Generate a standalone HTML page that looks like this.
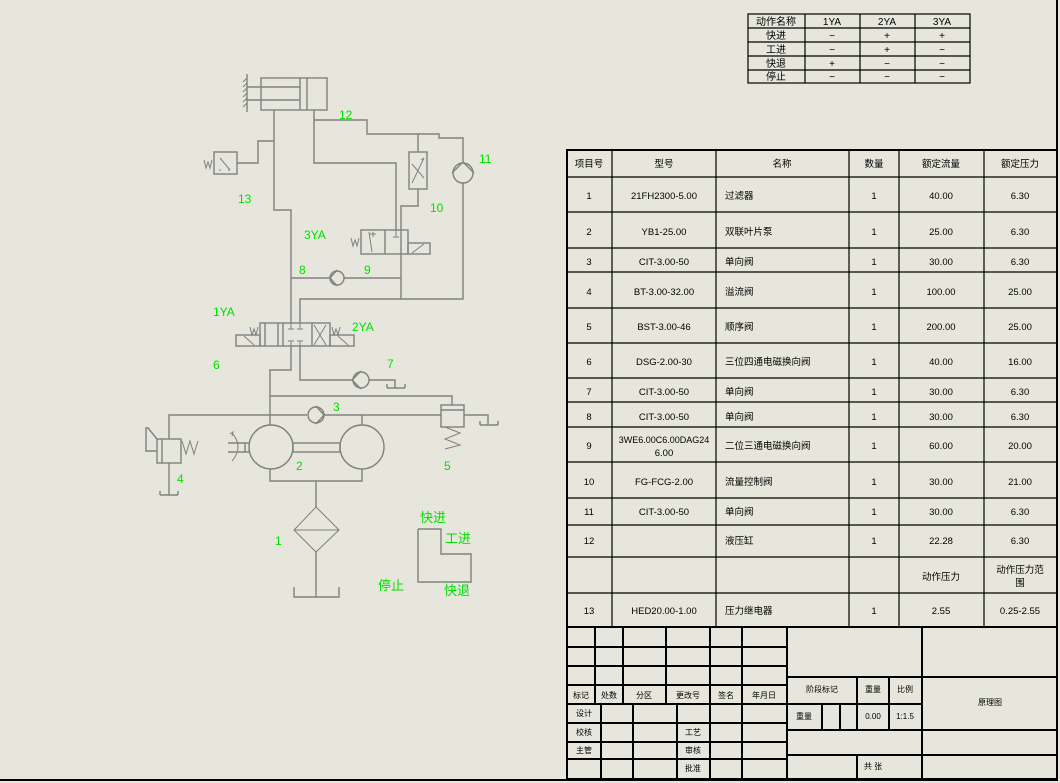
<!DOCTYPE html>
<html><head><meta charset="utf-8"><style>
html,body{margin:0;padding:0;background:#e6e6dc;}
svg{display:block;}
text{font-family:"Liberation Sans","Noto Sans CJK SC",sans-serif;}
.t{font-size:10px;fill:#000;}
.g{font-size:12px;fill:#00e000;}
.gc{font-size:13px;fill:#00e000;font-family:"Liberation Sans","Noto Sans CJK SC",sans-serif;}
.s{font-size:8px;fill:#000;}
</style></head><body>
<svg width="1060" height="783" viewBox="0 0 1060 783" xmlns="http://www.w3.org/2000/svg">
<rect width="1060" height="783" fill="#e6e6dc"/>
<line x1="1057" y1="0" x2="1057" y2="781" stroke="#000" stroke-width="2"/>
<line x1="0" y1="780" x2="1058" y2="780" stroke="#000" stroke-width="2"/>

<g stroke="#000" stroke-width="1.2" fill="none">
<rect x="748" y="14" width="222" height="69"/>
<line x1="805" y1="14" x2="805" y2="83"/><line x1="860" y1="14" x2="860" y2="83"/><line x1="915" y1="14" x2="915" y2="83"/>
<line x1="748" y1="28" x2="970" y2="28"/><line x1="748" y1="42" x2="970" y2="42"/><line x1="748" y1="56" x2="970" y2="56"/><line x1="748" y1="70" x2="970" y2="70"/>
</g>
<g class="t" text-anchor="middle" style="font-size:10px">
<text x="776" y="25">动作名称</text><text x="832" y="25">1YA</text><text x="887" y="25">2YA</text><text x="942" y="25">3YA</text>
<text x="776" y="39">快进</text><text x="832" y="39">−</text><text x="887" y="39">+</text><text x="942" y="39">+</text>
<text x="776" y="53">工进</text><text x="832" y="53">−</text><text x="887" y="53">+</text><text x="942" y="53">−</text>
<text x="776" y="67">快退</text><text x="832" y="67">+</text><text x="887" y="67">−</text><text x="942" y="67">−</text>
<text x="776" y="80">停止</text><text x="832" y="80">−</text><text x="887" y="80">−</text><text x="942" y="80">−</text>
</g>

<g stroke="#000" stroke-width="1.2" fill="none">
<rect x="567" y="150" width="490" height="477" stroke-width="2"/>
<line x1="612" y1="150" x2="612" y2="627"/><line x1="716" y1="150" x2="716" y2="627"/><line x1="849" y1="150" x2="849" y2="627"/><line x1="899" y1="150" x2="899" y2="627"/><line x1="984" y1="150" x2="984" y2="627"/>
<line x1="567" y1="177" x2="1057" y2="177"/><line x1="567" y1="212" x2="1057" y2="212"/><line x1="567" y1="248" x2="1057" y2="248"/><line x1="567" y1="272" x2="1057" y2="272"/><line x1="567" y1="308" x2="1057" y2="308"/><line x1="567" y1="343" x2="1057" y2="343"/><line x1="567" y1="378" x2="1057" y2="378"/><line x1="567" y1="402" x2="1057" y2="402"/><line x1="567" y1="427" x2="1057" y2="427"/><line x1="567" y1="462" x2="1057" y2="462"/><line x1="567" y1="498" x2="1057" y2="498"/><line x1="567" y1="525" x2="1057" y2="525"/><line x1="567" y1="557" x2="1057" y2="557"/><line x1="567" y1="593" x2="1057" y2="593"/>
</g>
<g class="t" style="font-size:9.5px">
<g text-anchor="middle">
<text x="589" y="167">项目号</text><text x="664" y="167">型号</text><text x="782" y="167">名称</text><text x="874" y="167">数量</text><text x="941" y="167">额定流量</text><text x="1020" y="167">额定压力</text>
<text x="589" y="199">1</text><text x="664" y="199">21FH2300-5.00</text><text x="874" y="199">1</text><text x="941" y="199">40.00</text><text x="1020" y="199">6.30</text>
<text x="589" y="235">2</text><text x="664" y="235">YB1-25.00</text><text x="874" y="235">1</text><text x="941" y="235">25.00</text><text x="1020" y="235">6.30</text>
<text x="589" y="265">3</text><text x="664" y="265">CIT-3.00-50</text><text x="874" y="265">1</text><text x="941" y="265">30.00</text><text x="1020" y="265">6.30</text>
<text x="589" y="295">4</text><text x="664" y="295">BT-3.00-32.00</text><text x="874" y="295">1</text><text x="941" y="295">100.00</text><text x="1020" y="295">25.00</text>
<text x="589" y="330">5</text><text x="664" y="330">BST-3.00-46</text><text x="874" y="330">1</text><text x="941" y="330">200.00</text><text x="1020" y="330">25.00</text>
<text x="589" y="365">6</text><text x="664" y="365">DSG-2.00-30</text><text x="874" y="365">1</text><text x="941" y="365">40.00</text><text x="1020" y="365">16.00</text>
<text x="589" y="395">7</text><text x="664" y="395">CIT-3.00-50</text><text x="874" y="395">1</text><text x="941" y="395">30.00</text><text x="1020" y="395">6.30</text>
<text x="589" y="420">8</text><text x="664" y="420">CIT-3.00-50</text><text x="874" y="420">1</text><text x="941" y="420">30.00</text><text x="1020" y="420">6.30</text>
<text x="589" y="449">9</text><text x="664" y="443" style="font-size:9px">3WE6.00C6.00DAG24</text><text x="664" y="456">6.00</text><text x="874" y="449">1</text><text x="941" y="449">60.00</text><text x="1020" y="449">20.00</text>
<text x="589" y="485">10</text><text x="664" y="485">FG-FCG-2.00</text><text x="874" y="485">1</text><text x="941" y="485">30.00</text><text x="1020" y="485">21.00</text>
<text x="589" y="515">11</text><text x="664" y="515">CIT-3.00-50</text><text x="874" y="515">1</text><text x="941" y="515">30.00</text><text x="1020" y="515">6.30</text>
<text x="589" y="544">12</text><text x="874" y="544">1</text><text x="941" y="544">22.28</text><text x="1020" y="544">6.30</text>
<text x="941" y="580">动作压力</text><text x="1020" y="573">动作压力范</text><text x="1020" y="586">围</text>
<text x="589" y="614">13</text><text x="664" y="614">HED20.00-1.00</text><text x="874" y="614">1</text><text x="941" y="614">2.55</text><text x="1020" y="614">0.25-2.55</text>
</g>
<g>
<text x="725" y="199">过滤器</text><text x="725" y="235">双联叶片泵</text><text x="725" y="265">单向阀</text><text x="725" y="295">溢流阀</text><text x="725" y="330">顺序阀</text><text x="725" y="365">三位四通电磁换向阀</text><text x="725" y="395">单向阀</text><text x="725" y="420">单向阀</text><text x="725" y="449">二位三通电磁换向阀</text><text x="725" y="485">流量控制阀</text><text x="725" y="515">单向阀</text><text x="725" y="544">液压缸</text><text x="725" y="614">压力继电器</text>
</g>
</g>

<g stroke="#000" stroke-width="2" fill="none">
<rect x="567" y="627" width="490" height="152"/>
<line x1="787" y1="627" x2="787" y2="779"/><line x1="922" y1="627" x2="922" y2="779"/>
<line x1="567" y1="647" x2="787" y2="647"/><line x1="567" y1="666" x2="787" y2="666"/><line x1="567" y1="685" x2="787" y2="685"/><line x1="567" y1="704" x2="787" y2="704"/><line x1="567" y1="723" x2="787" y2="723"/><line x1="567" y1="742" x2="787" y2="742"/><line x1="567" y1="759" x2="787" y2="759"/>
<line x1="595" y1="627" x2="595" y2="704"/><line x1="623" y1="627" x2="623" y2="704"/><line x1="666" y1="627" x2="666" y2="704"/><line x1="710" y1="627" x2="710" y2="779"/><line x1="742" y1="627" x2="742" y2="779"/>
<line x1="601" y1="704" x2="601" y2="779"/><line x1="633" y1="704" x2="633" y2="779"/><line x1="677" y1="704" x2="677" y2="779"/>
<line x1="787" y1="677" x2="1057" y2="677"/><line x1="787" y1="730" x2="1057" y2="730"/><line x1="787" y1="755" x2="1057" y2="755"/>
<line x1="787" y1="704" x2="922" y2="704"/>
<line x1="857" y1="677" x2="857" y2="730"/><line x1="889" y1="677" x2="889" y2="730"/>
<line x1="822" y1="704" x2="822" y2="730"/><line x1="840" y1="704" x2="840" y2="730"/>
<line x1="857" y1="755" x2="857" y2="779"/>
</g>
<g class="s" text-anchor="middle">
<text x="581" y="698">标记</text><text x="609" y="698">处数</text><text x="644" y="698">分区</text><text x="688" y="698">更改号</text><text x="726" y="698">签名</text><text x="764" y="698">年月日</text>
<text x="584" y="716">设计</text><text x="584" y="735">校核</text><text x="584" y="753">主管</text>
<text x="693" y="735">工艺</text><text x="693" y="753">审核</text><text x="693" y="771">批准</text>
<text x="822" y="692">阶段标记</text><text x="873" y="692">重量</text><text x="905" y="692">比例</text>
<text x="804" y="719">重量</text><text x="873" y="719">0.00</text><text x="905" y="719">1:1.5</text>
<text x="990" y="705">原理图</text><text x="873" y="769">共 张</text>
</g>

<g stroke="#808080" stroke-width="1.4" fill="none">
<rect x="261" y="78" width="66" height="32"/>
<line x1="247" y1="87" x2="300" y2="87"/><line x1="247" y1="100" x2="300" y2="100"/>
<line x1="300" y1="78" x2="300" y2="110"/><line x1="307" y1="78" x2="307" y2="110"/>
<line x1="247" y1="74" x2="247" y2="112"/>
<path d="M247 78l-4 4M247 83l-4 4M247 88l-4 4M247 93l-4 4M247 98l-4 4M247 103l-4 4" stroke-width="1"/>
<polyline points="274,110 274,210 291,210 291,323"/>
<polyline points="274,141 258,141 258,163 237,163"/>
<rect x="214" y="152" width="23" height="22"/>
<path d="M220 158 L230 170 M228 170 l2 0 M219 170 l2 0" stroke-width="1"/>
<path d="M204 160 l2 8 l2 -6 l2 6 l2 -8" stroke-width="1"/>
<polyline points="314,110 314,163 396,163 396,230"/>
<polyline points="314,120 367,120 367,134 439,134 439,138 463,138 463,163"/>
<circle cx="463" cy="173" r="10"/>
<path d="M452 173 L463 162 L474 173"/>
<polyline points="463,183 463,299 300,299 300,323"/>
<line x1="418" y1="134" x2="418" y2="152"/>
<rect x="409" y="152" width="18" height="37"/>
<path d="M412 183 L424 158 M421 160 l3 -2 M412 164 L424 178" stroke-width="1"/>
<polyline points="418,189 418,206 401,206 401,299"/>
<rect x="361" y="230" width="47" height="24"/>
<line x1="385" y1="230" x2="385" y2="254"/>
<rect x="408" y="243" width="22" height="11"/>
<path d="M412 253 L424 244" stroke-width="1"/>
<path d="M369 232 L372 252 M373 232 L373 237 M370 234 h6" stroke-width="1"/>
<path d="M396 230 v7 M393 237 h6" stroke-width="1"/>
<path d="M351 238 l2 8 l2 -6 l2 6 l2 -8" stroke-width="1"/>
<line x1="291" y1="278" x2="330" y2="278"/><line x1="344" y1="278" x2="401" y2="278"/>
<circle cx="337" cy="278" r="7"/>
<path d="M337 270 l-7 8 l7 8"/>
<rect x="260" y="323" width="70" height="23"/>
<line x1="265" y1="323" x2="265" y2="346"/><line x1="278" y1="323" x2="278" y2="346"/><line x1="283" y1="323" x2="283" y2="346"/><line x1="312" y1="323" x2="312" y2="346"/>
<rect x="236" y="335" width="24" height="11"/><rect x="330" y="335" width="24" height="11"/>
<path d="M244 336 L254 345 M338 336 L348 345 M314 325 L326 345 M326 325 L314 345" stroke-width="1"/>
<path d="M291 323 v6 M288 329 h6 M300 323 v6 M297 329 h6 M288 341 h6 M291 341 v5 M297 341 h6 M300 341 v5" stroke-width="1"/>
<path d="M250 327 l2 8 l2 -6 l2 6 l2 -8 M332 327 l2 8 l2 -6 l2 6 l2 -8" stroke-width="1"/>
<polyline points="291,346 291,370 270,370 270,425"/>
<polyline points="300,346 300,380 353,380"/>
<circle cx="361" cy="380" r="8"/>
<path d="M361 371 l-9 9 l9 9"/>
<polyline points="369,380 395,380 395,388"/>
<path d="M387 388 h18 M387 388 v-4 M405 388 v-4"/>
<polyline points="270,396 452,396 452,405"/>
<polyline points="169,439 169,415 307,415"/>
<circle cx="316" cy="415" r="8"/>
<path d="M316 406 l8 9 l-8 9"/>
<polyline points="324,415 441,415"/>
<line x1="362" y1="415" x2="362" y2="425"/>
<rect x="441" y="405" width="23" height="22"/>
<line x1="441" y1="410" x2="464" y2="410"/>
<polyline points="464,415 488,415 488,425"/>
<path d="M480 425 h18 M480 425 v-4 M498 425 v-4"/>
<path d="M445 427 l15 6 l-15 6 l15 6 l-15 4" stroke-width="1"/>
<circle cx="271" cy="447" r="22"/><circle cx="362" cy="447" r="22"/>
<rect x="293" y="443" width="47" height="9"/>
<path d="M228 443 h21 M228 452 h21 M245 443 v9"/>
<path d="M232 433 q12 14 0 28 M230 434 l3 -2 l-1 4" stroke-width="1"/>
<polyline points="270,469 270,481 362,481 362,469"/>
<line x1="316" y1="481" x2="316" y2="507"/>
<path d="M316 507 L339 530 L316 552 L294 530 Z M294 530 H339" stroke-width="1"/>
<line x1="316" y1="552" x2="316" y2="597"/>
<path d="M294 587 v10 h45 v-10"/>
<rect x="157" y="439" width="24" height="24"/>
<line x1="162" y1="439" x2="162" y2="463"/>
<path d="M157 439 l-9 -11 h-2 v23 h11"/>
<path d="M182 441 l4 13 l4 -13 l4 13 l4 -13" stroke-width="1"/>
<line x1="169" y1="463" x2="169" y2="495"/>
<path d="M160 495 h18 M160 495 v-4 M178 495 v-4"/>
<polyline points="418,529 441,529 441,554 471,554 471,582 418,582 418,529"/>
</g>
<g class="g">
<text x="339" y="119">12</text><text x="479" y="163">11</text><text x="238" y="203">13</text><text x="430" y="212">10</text>
<text x="304" y="239">3YA</text><text x="299" y="274">8</text><text x="364" y="274">9</text>
<text x="213" y="316">1YA</text><text x="352" y="331">2YA</text><text x="213" y="369">6</text><text x="387" y="368">7</text>
<text x="333" y="411">3</text><text x="177" y="483">4</text><text x="296" y="470">2</text><text x="444" y="470">5</text><text x="275" y="545">1</text>
</g>
<g class="gc">
<text x="420" y="522">快进</text><text x="445" y="543">工进</text><text x="378" y="590">停止</text><text x="444" y="595">快退</text>
</g>
</svg>
</body></html>
